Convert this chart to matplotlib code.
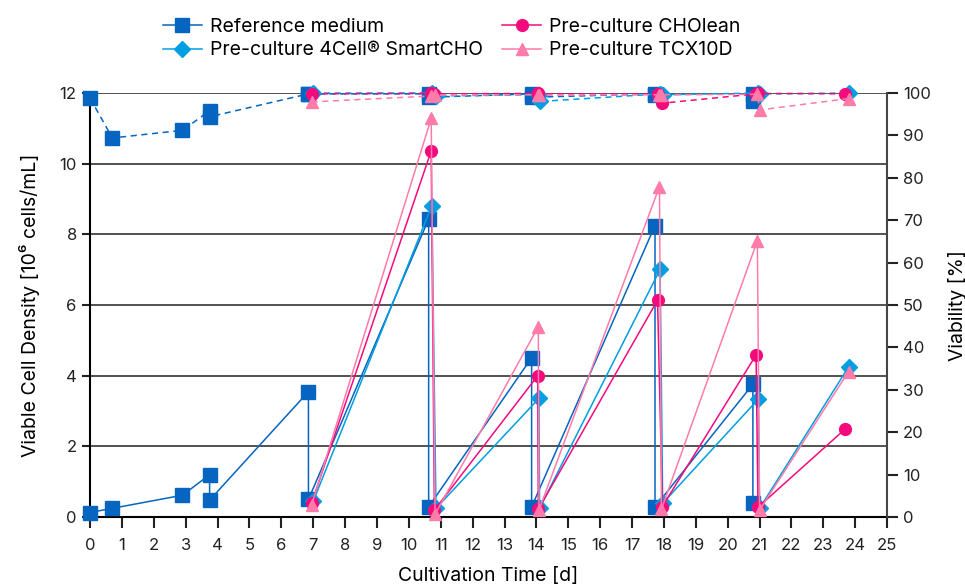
import matplotlib
matplotlib.use("Agg")
import matplotlib.pyplot as plt

plt.rcParams['font.family'] = ['Inter', 'DejaVu Sans']

# reference medium
ref_t = [0, 0.7, 2.9, 3.75, 3.75, 6.85, 6.85, 10.62, 10.62, 13.85, 13.85, 17.72, 17.72, 20.79, 20.79]
ref_vcd = [0.13, 0.25, 0.62, 1.2, 0.48, 3.55, 0.5, 8.43, 0.29, 4.51, 0.29, 8.25, 0.29, 3.76, 0.39]
ref_via = [98.8, 89.4, 91.2, 95.8, 94.4, 99.8, 99.8, 99.8, 99.0, 99.8, 99.0, 99.8, 99.6, 99.8, 98.2]

# pre-culture 4Cell SmartCHO
cell_t = [7.0, 10.72, 10.85, 14.08, 14.1, 17.88, 17.96, 20.96, 21.0, 23.79]
cell_vcd = [0.45, 8.81, 0.25, 3.36, 0.25, 7.01, 0.39, 3.34, 0.25, 4.25]
cell_via = [100, 100, 99.3, 99.6, 98.0, 99.8, 99.6, 100, 99.8, 100]

# pre-culture CHOlean
chol_t = [6.95, 10.7, 10.8, 14.04, 14.06, 17.8, 17.95, 20.89, 20.95, 23.68]
chol_vcd = [0.4, 10.36, 0.2, 4.0, 0.22, 6.14, 0.3, 4.59, 0.28, 2.49]
chol_via = [99.8, 99.9, 99.8, 99.9, 99.8, 99.8, 97.6, 99.8, 99.9, 99.8]

# pre-culture TCX10D
tcx_t = [6.95, 10.7, 10.82, 14.06, 14.08, 17.86, 17.92, 20.93, 21.0, 23.79]
tcx_vcd = [0.35, 11.28, 0.08, 5.39, 0.2, 9.35, 0.22, 7.82, 0.2, 4.12]
tcx_via = [97.9, 99.3, 99.5, 99.6, 99.5, 99.6, 99.6, 99.7, 96.0, 98.7]

series = [
    ("Reference medium", ref_t, ref_vcd, ref_via, "#0565C0", "s", 9.5),
    ("Pre-culture 4Cell\u00ae SmartCHO", cell_t, cell_vcd, cell_via, "#009EE2", "D", 8.5),
    ("Pre-culture CHOlean", chol_t, chol_vcd, chol_via, "#F50A7D", "o", 8.5),
    ("Pre-culture TCX10D", tcx_t, tcx_vcd, tcx_via, "#FF7BAA", "^", 8.5),
]

fig = plt.figure(figsize=(9.65, 5.85), dpi=100)
ax = fig.add_axes([0.0933, 0.116, 0.826, 0.725])
ax2 = ax.twinx()

handles = []
for name, t, vcd, via, col, mk, ms in series:
    h, = ax.plot(t, vcd, color=col, lw=1.1, marker=mk, ms=ms, mec=col, mfc=col,
                 clip_on=False, zorder=3, label=name)
    ax2.plot(t, via, color=col, lw=1.1, ls=(0, (4, 3)), marker=mk, ms=ms, mec=col, mfc=col,
             clip_on=False, zorder=3)
    handles.append(h)

ax.set_xlim(0, 25)
ax.set_ylim(0, 12)
ax2.set_ylim(0, 100)
ax.set_xticks(range(0, 26))
ax.set_yticks(range(0, 13, 2))
ax2.set_yticks(range(0, 101, 10))

ax.grid(axis='y', color='#222222', lw=1.1)
ax.set_axisbelow(True)

for s in ['top', 'right']:
    ax.spines[s].set_visible(False)
ax2.spines['top'].set_visible(False)
ax2.spines['left'].set_visible(False)
ax2.spines['bottom'].set_visible(False)
ax.spines['left'].set_linewidth(1.5)
ax.spines['bottom'].set_linewidth(1.5)
ax2.spines['right'].set_linewidth(1.5)
ax2.spines['right'].set_color('#444444')

ax.tick_params(axis='x', direction='out', length=8, width=1.5, labelsize=12, pad=7, colors='#222222')
ax.tick_params(axis='y', direction='out', length=6, width=1.5, labelsize=12, colors='#222222')
ax2.tick_params(axis='y', direction='out', length=8, width=1.5, labelsize=12, colors='#222222')

ax.set_xlabel("Cultivation Time [d]", fontsize=14, labelpad=10)
ax.set_ylabel("Viable Cell Density [10\u2076 cells/mL]", fontsize=14, labelpad=14)
ax2.set_ylabel("Viability [%]", fontsize=14, labelpad=12)

order = [0, 1, 2, 3]
fig.legend([handles[i] for i in order], [series[i][0] for i in order],
           loc='upper center', bbox_to_anchor=(0.468, 1.0), ncol=2, frameon=False,
           fontsize=14, handlelength=2, handletextpad=0.4, columnspacing=1.0,
           labelspacing=0.3)

fig.savefig("out.png", dpi=100)
